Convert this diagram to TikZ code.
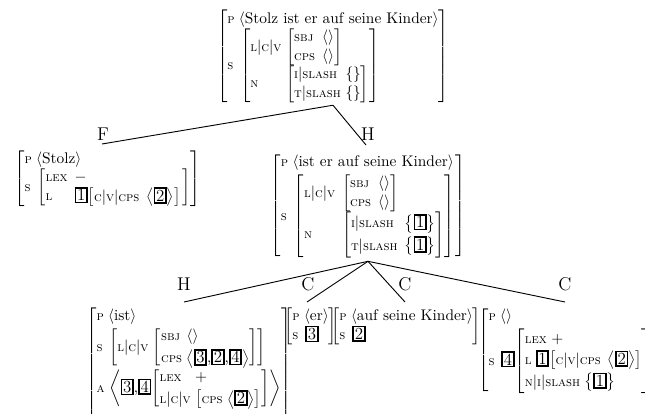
\documentclass[tikz,border=0pt]{standalone}
\usepackage{amsmath}
\newcommand{\ft}[1]{\text{\fontsize{8.5}{10}\selectfont\scshape #1}}
\newcommand{\tg}[1]{{\setlength{\fboxsep}{0.5pt}\setlength{\fboxrule}{1.1pt}\fbox{\fontsize{11}{12}\selectfont #1}}}
\newcommand{\avm}[1]{{\left[\begin{array}{@{}l@{\hspace{0.45em}}l@{}}#1\end{array}\right]}}
\newcommand{\avmt}[1]{{\left[\begin{array}{@{}l@{\hspace{0.3em}}l@{}}#1\end{array}\right]}}
\newcommand{\avmone}[1]{{\left[\begin{array}{@{}l@{}}#1\end{array}\right]}}
\newcommand{\lst}[1]{{\left\langle #1\right\rangle}}
\newcommand{\st}[1]{{\left\{ #1\right\}}}
\newcommand{\prow}[1]{\multicolumn{2}{@{}l@{}}{\ft{p}\;#1}}
\newcommand{\cm}{{,}}
\begin{document}
\begin{tikzpicture}[x=0.65pt,y=-0.65pt,
  avmnode/.style={inner sep=0pt, anchor=north west},
  lbl/.style={font=\large, inner sep=0pt},
  edge/.style={line width=0.6pt}]
\useasboundingbox (0,0) rectangle (645,414);
% top
\node[avmnode, anchor=north] (top) at (333,10) {$\avm{
  \prow{\langle\text{Stolz ist er auf seine Kinder}\rangle} \\
  \ft{s} & \avmt{ \ft{l}|\ft{c}|\ft{v} & \avm{\ft{sbj} & \langle\rangle \\ \ft{cps} & \langle\rangle} \\
     \ft{n} & \avmt{\ft{i}|\ft{slash} & \{\} \\ \ft{t}|\ft{slash} & \{\}} } }$};
% Stolz
\node[avmnode] (stolz) at (14,150) {$\avm{
  \prow{\langle\text{Stolz}\rangle} \\
  \ft{s} & \avm{ \ft{lex} & - \\ \ft{l} & \tg{1}\avm{\ft{c}|\ft{v}|\ft{cps} & \lst{\tg{2}}}\hspace{1pt} } }$};
% ist er auf seine Kinder
\node[avmnode, anchor=north] (head) at (368,153) {$\avm{
  \prow{\langle\text{ist er auf seine Kinder}\rangle} \\[2pt]
  \ft{s} & \avm{ \ft{l}|\ft{c}|\ft{v} & \avm{\ft{sbj} & \langle\rangle \\ \ft{cps} & \langle\rangle} \\[5pt]
     \ft{n} & \avm{\ft{i}|\ft{slash} & \st{\tg{1}} \\[2pt] \ft{t}|\ft{slash} & \st{\tg{1}}} } }$};
% ist
\node[avmnode] (ist) at (86,307) {$\avmt{
  \prow{\langle\text{ist}\rangle} \\[1pt]
  \ft{s} & \avmt{ \ft{l}|\ft{c}|\ft{v} & \avmt{\ft{sbj} & \langle\rangle \\[2pt] \ft{cps} & \lst{\tg{3}\cm\tg{2}\cm\tg{4}}} } \\[3pt]
  \ft{a} & \lst{\tg{3}\cm\tg{4}\avmt{\ft{lex} & + \\[2pt] \ft{l}|\ft{c}|\ft{v} & \avmt{\ft{cps} & \lst{\tg{2}}}}} \\[14pt]
  & }$};
% er
\node[avmnode] (er) at (284,307) {$\avm{
  \prow{\langle\text{er}\rangle} \\
  \ft{s} & \tg{3} }$};
% auf seine Kinder
\node[avmnode] (auf) at (331,307) {$\avm{
  \prow{\langle\text{auf seine Kinder}\rangle} \\
  \ft{s} & \tg{2} }$};
% right
\node[avmnode] (pro) at (478,307) {$\avm{
  \prow{\langle\rangle} \\[2pt]
  \ft{s} & \tg{4}\avmone{\ft{lex}\;+ \\[1pt] \ft{l}\;\tg{1}\avm{\ft{c}|\ft{v}|\ft{cps} & \lst{\tg{2}}} \\[2pt] \ft{n}|\ft{i}|\ft{slash}\;\st{\tg{1}}} }$};
% edges level 1
\coordinate (a1) at ([yshift=-1.5pt]top.south);
\coordinate (eF) at (102,144);
\coordinate (eH) at (366,145);
\node[lbl] (lF) at (103,134) {F};
\node[lbl] (lH) at (368,134) {H};
\draw[edge] (a1) -- (eF);
\draw[edge] (a1) -- (eH);
% edges level 2
\coordinate (a2) at ([yshift=-2pt]head.south);
\coordinate (e1) at (184,302);
\coordinate (e2) at (307,302);
\coordinate (e3) at (405,302);
\coordinate (e4) at (565,302);
\node[lbl] (l1) at (184,284) {H};
\node[lbl] (l2) at (308,284) {C};
\node[lbl] (l3) at (405,284) {C};
\node[lbl] (l4) at (565,284) {C};
\draw[edge] (a2) -- (e1);
\draw[edge] (a2) -- (e2);
\draw[edge] (a2) -- (e3);
\draw[edge] (a2) -- (e4);
\end{tikzpicture}
\end{document}
